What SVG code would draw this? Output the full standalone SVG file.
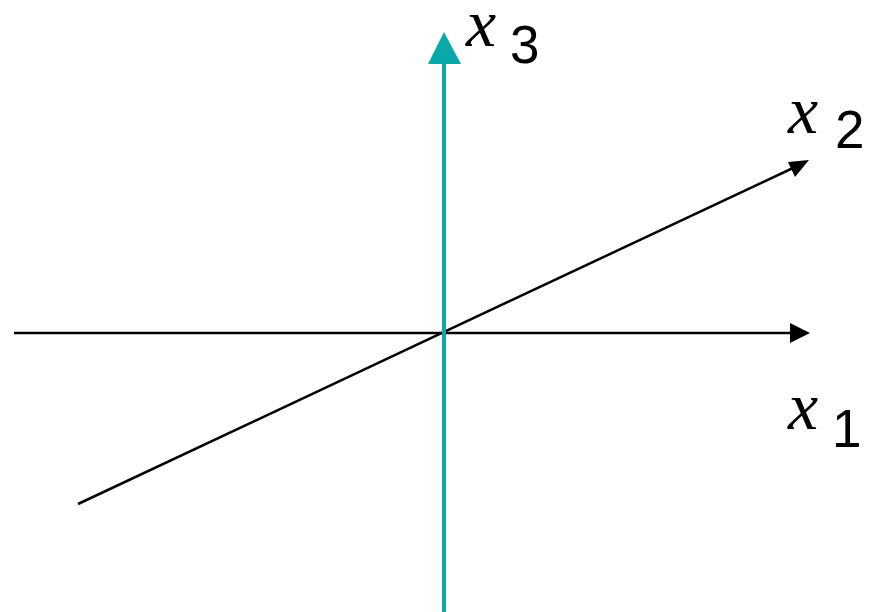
<svg xmlns="http://www.w3.org/2000/svg" width="871" height="612" viewBox="0 0 871 612">
<style>
.ax{stroke:#000;stroke-width:2.5;fill:none}
.ax3{stroke:#0AA8A8;stroke-width:4;fill:none}
.s{font-family:"Liberation Sans","DejaVu Sans",sans-serif;font-size:53px;fill:#000}
</style>
<rect width="871" height="612" fill="#fff"/>
<g id="connectors">
<line class="ax" x1="14" y1="333" x2="792" y2="333"/>
<polygon points="810,333 790,323 790,343" fill="#000"/>
<line class="ax" x1="78" y1="504" x2="793" y2="168"/>
<polygon points="809,160 788,162 795,177" fill="#000"/>
<line class="ax3" x1="444" y1="612" x2="444" y2="62"/>
<polygon points="444,32 428,64 461,64" fill="#0AA8A8"/>
</g>
<g id="label-x3"><text font-family="'Liberation Serif', serif" font-style="italic" font-size="68" x="466" y="46">x</text><text class="s" x="510" y="63">3</text></g>
<g id="label-x2"><text font-family="'Liberation Serif', serif" font-style="italic" font-size="68" x="788" y="133">x</text><text class="s" x="835" y="148">2</text></g>
<g id="label-x1"><text font-family="'Liberation Serif', serif" font-style="italic" font-size="68" x="788" y="429">x</text><text class="s" x="832" y="447">1</text></g>
</svg>
